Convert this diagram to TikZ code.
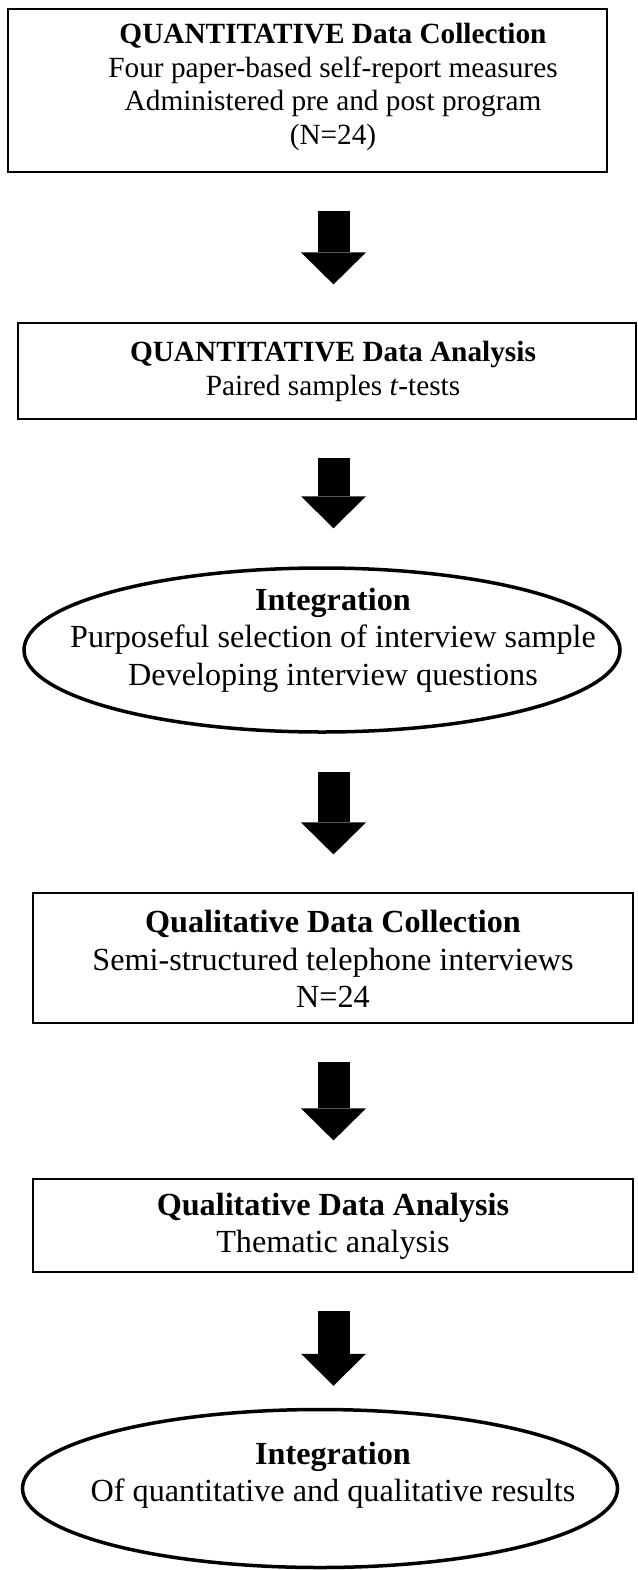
\documentclass[tikz,border=0pt]{standalone}
\usepackage{fontspec}
\setmainfont{Liberation Serif}
\usetikzlibrary{calc,arrows.meta,shapes.geometric}

\tikzset{
  stagebox/.style={draw,line width=1.2pt,rectangle,inner sep=0pt},
  stageell/.style={draw,line width=3.5pt,ellipse,inner sep=0pt},
  smalltxt/.style={align=center,inner sep=0pt,font=\fontsize{29.3}{33.5}\selectfont},
  bigtxt/.style={align=center,inner sep=0pt,font=\fontsize{32.2}{37.5}\selectfont},
  bigarrow/.style={line width=32pt,-{Triangle[length=32pt,width=65pt,line width=0pt]},shorten <=38pt,shorten >=38pt}
}

\begin{document}
\begin{tikzpicture}[x=1pt,y=-1pt]
\useasboundingbox (0,0) rectangle (637,1570);
\coordinate (ax) at (333.5,0);
% frames
\node[stagebox,minimum width=599pt,minimum height=163pt] (qcol) at (307.5,90.5) {};
\node[stagebox,minimum width=618pt,minimum height=96pt] (qana) at (327,371) {};
\node[stageell,minimum width=596pt,minimum height=164pt] (int1) at (322,650) {};
\node[stagebox,minimum width=600pt,minimum height=130pt] (lcol) at (333,958) {};
\node[stagebox,minimum width=600pt,minimum height=93pt] (lana) at (333,1225.5) {};
\node[stageell,minimum width=595pt,minimum height=158pt] (int2) at (320,1488.5) {};
% texts
\node[smalltxt] (qcoltxt) at (333,87) {\textbf{QUANTITATIVE Data Collection}\\Four paper-based self-report measures\\Administered pre and post program\\(N=24)};
\node[smalltxt] (qanatxt) at (333,371.5) {\textbf{QUANTITATIVE Data Analysis}\\Paired samples \textit{t}-tests};
\node[bigtxt] (int1txt) at (333,640) {\textbf{Integration}\\Purposeful selection of interview sample\\Developing interview questions};
\node[bigtxt] (lcoltxt) at (333,959) {\textbf{Qualitative Data Collection}\\Semi-structured telephone interviews\\N=24};
\node[bigtxt] (lanatxt) at (333,1226.5) {\textbf{Qualitative Data Analysis}\\Thematic analysis};
\node[bigtxt] (int2txt) at (333,1475) {\textbf{Integration}\\Of quantitative and qualitative results};
% arrows
\foreach \a/\b in {qcol/qana,qana/int1,int1/lcol,lcol/lana} { \draw[bigarrow] (\a.south -| ax) -- (\b.north -| ax); }
\draw[bigarrow,shorten >=22pt] (lana.south -| ax) -- (int2.north -| ax);
\end{tikzpicture}
\end{document}
